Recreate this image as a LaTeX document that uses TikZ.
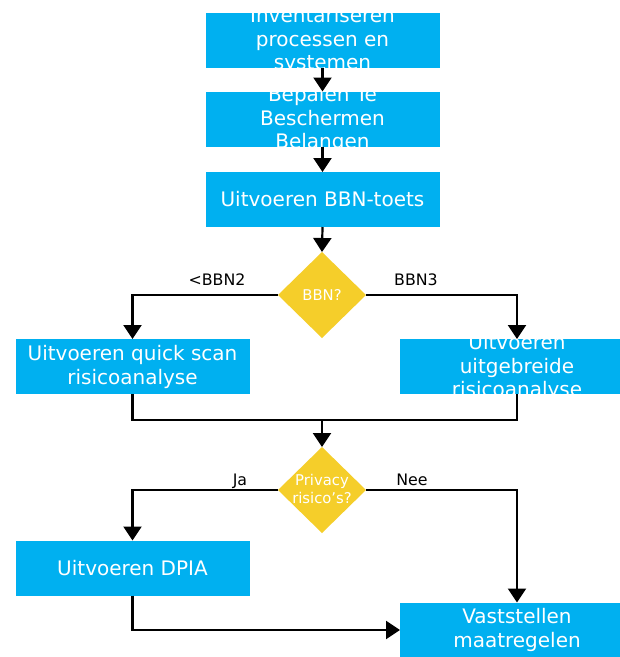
\documentclass[tikz,border=0pt]{standalone}
\usepackage{fontspec}
\setmainfont{DejaVu Sans}
\usetikzlibrary{shapes.geometric,arrows.meta}
\definecolor{boxblue}{RGB}{0,176,240}
\definecolor{diayellow}{RGB}{245,206,42}
\tikzset{
  box/.style={draw=none,fill=boxblue,minimum width=234pt,minimum height=55pt,inner sep=0pt,outer sep=0pt},
  boxtext/.style={text=white,align=center,inner sep=0pt,font=\fontsize{20}{23.5}\selectfont},
  dia/.style={diamond,draw=none,fill=diayellow,minimum width=88pt,minimum height=86pt,inner sep=0pt,outer sep=0pt},
  diatext/.style={text=white,align=center,inner sep=0pt,font=\fontsize{14.8}{17.7}\selectfont},
  lbl/.style={text=black,inner sep=0pt,anchor=base,font=\fontsize{15.8}{18}\selectfont},
  conn/.style={draw=black,line width=2.2pt},
  arr/.style={conn,-{Triangle[width=18pt,length=14pt]}}
}
\begin{document}
\begin{tikzpicture}[x=1pt,y=-1pt]
\clip (0,0) rectangle (620,657);
\fill[white] (0,0) rectangle (620,657);
% boxes
\node[box] (b1) at (322.5,40) {};
\node[boxtext] (t1) at (322.5,40.5) {Inventariseren\\processen en\\systemen};
\node[box] (b2) at (322.5,119) {};
\node[boxtext] (t2) at (322.5,119.5) {Bepalen Te\\Beschermen\\Belangen};
\node[box] (b3) at (322.5,199.5) {};
\node[boxtext] (t3) at (322.5,199.5) {Uitvoeren BBN-toets};
\node[dia] (d1) at (322,295) {};
\node[diatext] (dt1) at (322,295) {BBN?};
\node[box] (bl) at (132.5,366.5) {};
\node[boxtext] (tl) at (132.5,367) {Uitvoeren quick scan\\risicoanalyse};
\node[box] (br) at (517,366.5) {};
\node[boxtext] (tr) at (517,367.5) {Uitvoeren\\uitgebreide\\risicoanalyse};
\node[dia] (d2) at (322,490) {};
\node[diatext] (dt2) at (322,489) {Privacy\\risico’s?};
\node[box] (dp) at (132.5,568) {};
\node[boxtext] (tdp) at (132.5,568) {Uitvoeren DPIA};
\node[box] (vs) at (517,630) {};
\node[boxtext] (tvs) at (517,630) {Vaststellen\\maatregelen};
% labels
\node[lbl] (l1) at (217,285) {<BBN2};
\node[lbl] (l2) at (416,285) {BBN3};
\node[lbl] (l3) at (240,485) {Ja};
\node[lbl] (l4) at (412,485) {Nee};
% connectors
\coordinate (m1) at (322,420);
\draw[arr] (b1.south) -- (b2.north);
\draw[arr] (b2.south) -- (b3.north);
\draw[arr] (b3.south) -- (d1.north);
\draw[arr] (d1.west) -| (bl.north);
\draw[arr] (d1.east) -| (br.north);
\draw[conn] (bl.south) |- (m1);
\draw[conn] (br.south) |- (m1);
\draw[arr] (m1) -- (d2.north);
\draw[arr] (d2.west) -| (dp.north);
\draw[arr] (d2.east) -| (vs.north);
\draw[arr] (dp.south) |- (vs.west);
\end{tikzpicture}
\end{document}
